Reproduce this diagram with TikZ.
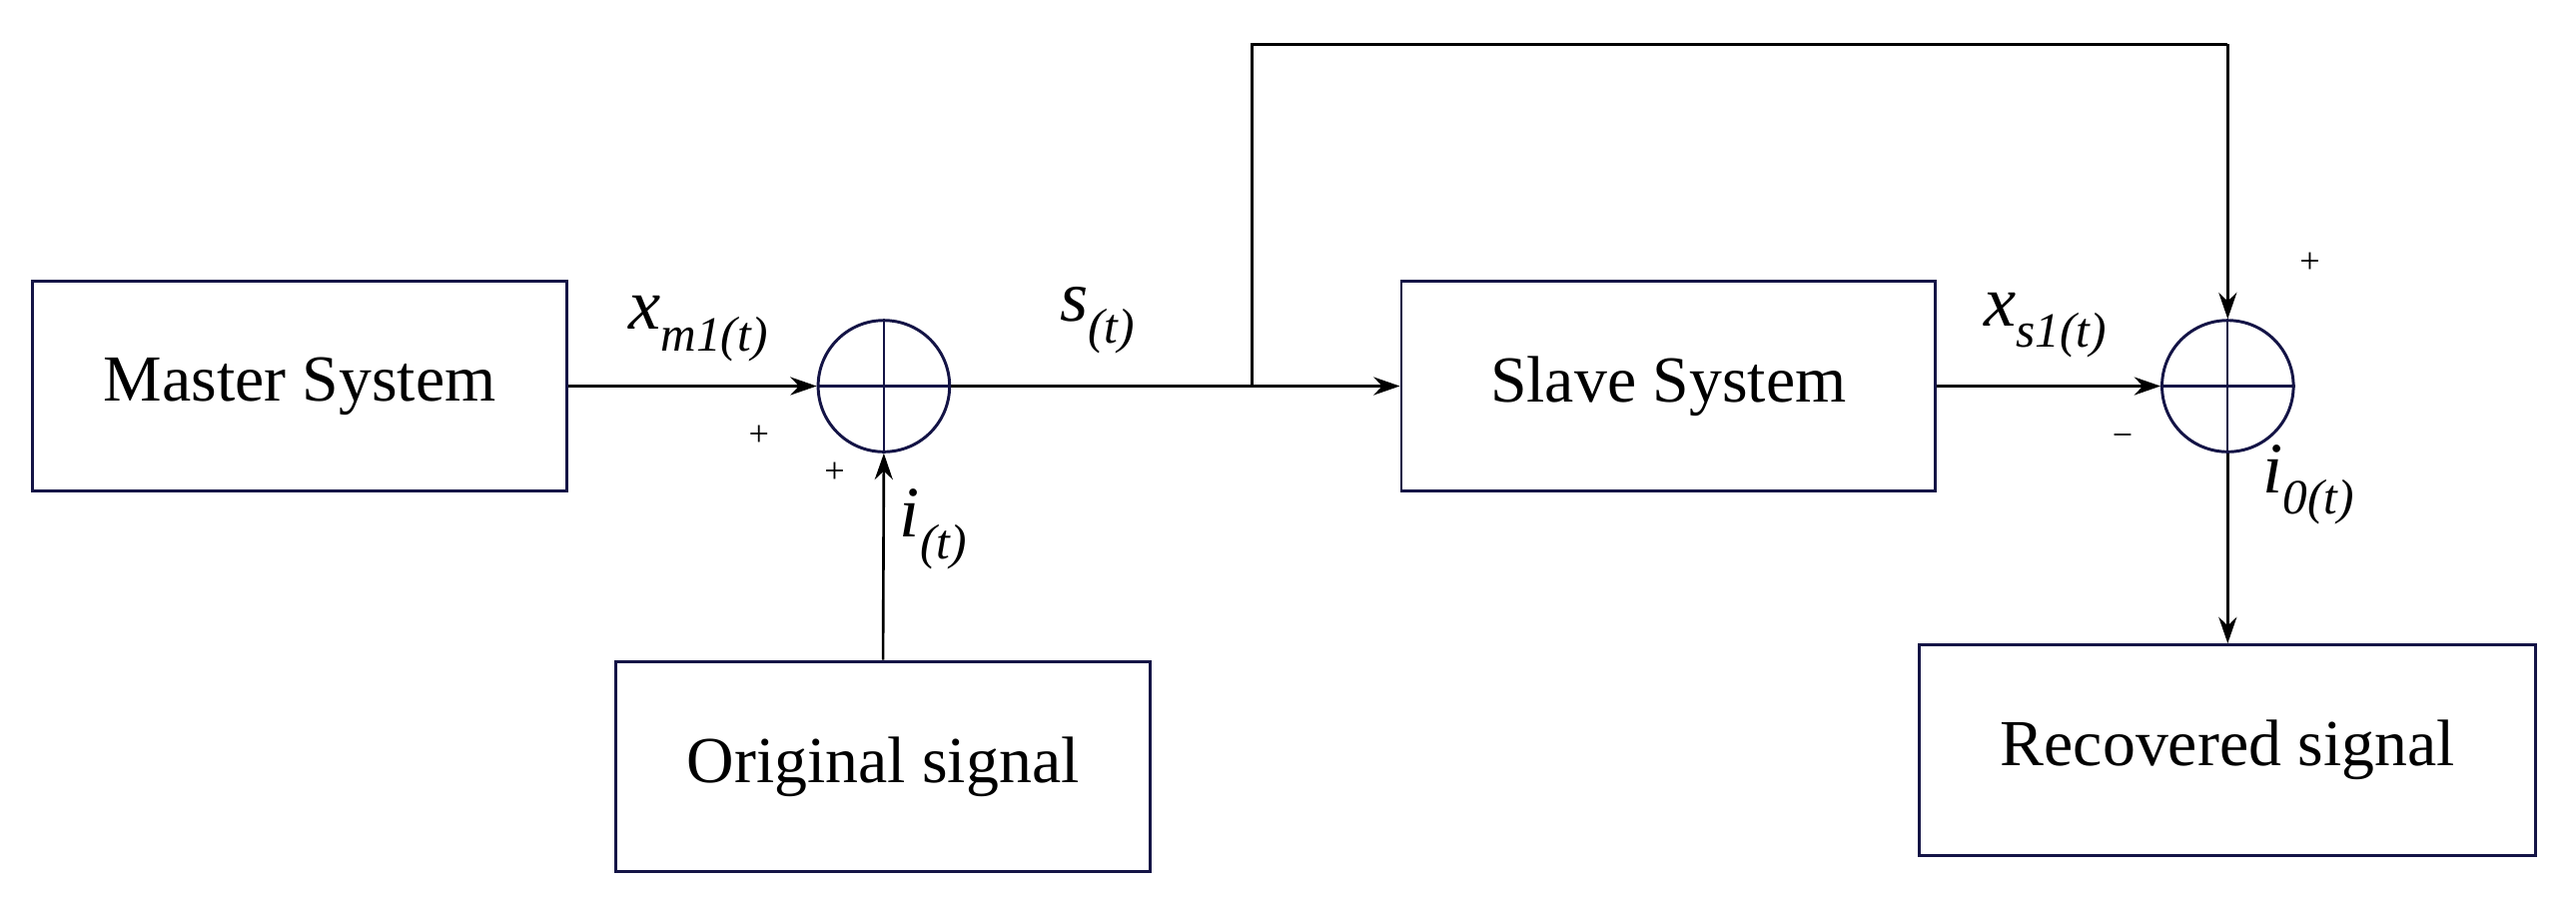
\documentclass[tikz,border=0pt]{standalone}
\usepackage{fontspec}
\setmainfont{Liberation Serif}
\usetikzlibrary{arrows.meta}
\definecolor{navy}{RGB}{20,20,70}
\newcommand{\sbs}[1]{\raisebox{-0.3em}{\fontsize{30}{34}\selectfont #1}}
\begin{document}
\begin{tikzpicture}[x=1pt,y=-1pt,
  box/.style={draw=navy,line width=1.8pt,minimum width=325pt,minimum height=128pt,inner sep=0pt,font=\fontsize{40}{48}\selectfont},
  sum/.style={draw=navy,line width=1.8pt,circle,minimum size=80pt,inner sep=0pt},
  ln/.style={line width=1.6pt},
  ar/.style={ln,-{Stealth[length=16pt,width=11pt]}},
  lab/.style={font=\fontsize{44}{50}\selectfont\itshape},
  sg/.style={font=\fontsize{22}{26}\selectfont}]
\useasboundingbox (0,0) rectangle (1568,548);
\node[box] (m) at (182.5,235) {Master System};
\node[box] (o) at (537.5,466.5) {Original signal};
\node[box] (s) at (1015.5,235) {Slave System};
\node[box,minimum width=375pt] (r) at (1356,456.5) {Recovered signal};
\node[sum] (a) at (538,235) {};
\node[sum] (b) at (1356,235) {};
\draw[navy,line width=1.4pt] (a.north)--(a.south) (a.west)--(a.east);
\draw[navy,line width=1.4pt] (b.north)--(b.south) (b.west)--(b.east);
\coordinate (br) at (762,235);
\coordinate (tl) at (762,27);
\coordinate (tr) at (1356,27);
\draw[ar] (m.east)--(a.west);
\draw[ar] (o.north)--(a.south);
\draw[ln] (a.east)--(br);
\draw[ar] (br)--(s.west);
\draw[ln] (br)--(tl)--(tr);
\draw[ar] (tr)--(b.north);
\draw[ar] (s.east)--(b.west);
\draw[ar] (b.south)--(r.north);
\node[lab] (l1) at (425,200) {x\sbs{m1(t)}};
\node[lab] (l2) at (668,195) {s\sbs{(t)}};
\node[lab] (l3) at (568,322) {i\sbs{(t)}};
\node[lab] (l4) at (1245,198) {x\sbs{s1(t)}};
\node[lab] (l5) at (1405,295) {i\sbs{0(t)}};
\node[sg] (p1) at (462,265) {+};
\node[sg] (p2) at (508,288) {+};
\node[sg] (p3) at (1406,160) {+};
\node[sg] (p4) at (1292,268) {\textminus};
\end{tikzpicture}
\end{document}
